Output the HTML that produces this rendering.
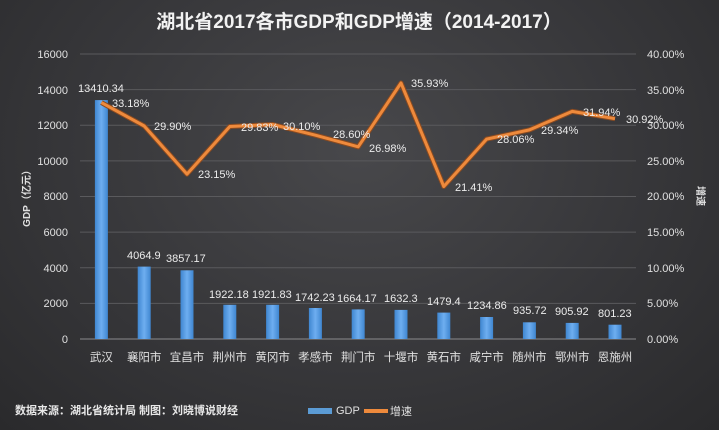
<!DOCTYPE html>
<html><head><meta charset="utf-8"><style>
html,body{margin:0;padding:0;width:719px;height:430px;overflow:hidden}
body{background:radial-gradient(ellipse at 50% 35%,#48484b 0%,#37373a 55%,#2a2a2c 100%);}
svg{display:block;font-family:"Liberation Sans","Noto Sans CJK SC",sans-serif}
</style></head><body>
<svg width="719" height="430" xmlns="http://www.w3.org/2000/svg">
<defs><linearGradient id="b" x1="0" y1="0" x2="1" y2="0"><stop offset="0" stop-color="#3f86d0"/><stop offset="0.5" stop-color="#6eaef0"/><stop offset="1" stop-color="#3f86d0"/></linearGradient></defs>
<text x="359" y="28" fill="#f2f2f2" font-size="19" font-weight="bold" text-anchor="middle">湖北省2017各市GDP和GDP增速（2014-2017）</text>
<g stroke="#5a5a5d" stroke-width="1">
<line x1="80" x2="636" y1="54" y2="54"/><line x1="80" x2="636" y1="89.6" y2="89.6"/><line x1="80" x2="636" y1="125.3" y2="125.3"/><line x1="80" x2="636" y1="160.9" y2="160.9"/><line x1="80" x2="636" y1="196.5" y2="196.5"/><line x1="80" x2="636" y1="232.1" y2="232.1"/><line x1="80" x2="636" y1="267.8" y2="267.8"/><line x1="80" x2="636" y1="303.4" y2="303.4"/>
</g>
<line x1="80" x2="636" y1="339" y2="339" stroke="#8a8a8d" stroke-width="1"/>
<g fill="#e0e0e0" font-size="11" text-anchor="end">
<text x="68" y="58">16000</text><text x="68" y="94">14000</text><text x="68" y="129">12000</text><text x="68" y="165">10000</text><text x="68" y="200">8000</text><text x="68" y="236">6000</text><text x="68" y="272">4000</text><text x="68" y="307">2000</text><text x="68" y="343">0</text>
</g>
<g fill="#e0e0e0" font-size="11">
<text x="647" y="58">40.00%</text><text x="647" y="94">35.00%</text><text x="647" y="129">30.00%</text><text x="647" y="165">25.00%</text><text x="647" y="200">20.00%</text><text x="647" y="236">15.00%</text><text x="647" y="272">10.00%</text><text x="647" y="307">5.00%</text><text x="647" y="343">0.00%</text>
</g>
<text transform="translate(30,196) rotate(-90)" fill="#e0e0e0" font-size="10" font-weight="bold" text-anchor="middle">GDP（亿元）</text>
<text transform="translate(697,196) rotate(90)" fill="#e0e0e0" font-size="10" font-weight="bold" text-anchor="middle">增速</text>
<g fill="url(#b)">
<rect x="94.9" y="100.1" width="13" height="238.9"/>
<rect x="137.7" y="266.6" width="13" height="72.4"/>
<rect x="180.5" y="270.3" width="13" height="68.7"/>
<rect x="223.3" y="304.8" width="13" height="34.2"/>
<rect x="266.1" y="304.8" width="13" height="34.2"/>
<rect x="308.9" y="308.0" width="13" height="31.0"/>
<rect x="351.7" y="309.4" width="13" height="29.6"/>
<rect x="394.5" y="309.9" width="13" height="29.1"/>
<rect x="437.3" y="312.6" width="13" height="26.4"/>
<rect x="480.1" y="317.0" width="13" height="22.0"/>
<rect x="522.9" y="322.3" width="13" height="16.7"/>
<rect x="565.7" y="322.9" width="13" height="16.1"/>
<rect x="608.5" y="324.7" width="13" height="14.3"/>
</g>
<polyline fill="none" stroke="#8a4a20" stroke-width="5" stroke-linejoin="round" points="101.4,102.6 144.2,126.0 187,174.1 229.8,126.5 272.6,124.5 315.4,135.2 358.2,146.8 401,83.0 443.8,186.5 486.6,139.1 529.4,129.9 572.2,111.4 615,118.7"/>
<polyline fill="none" stroke="#ee8a3c" stroke-width="3" stroke-linejoin="round" points="101.4,102.6 144.2,126.0 187,174.1 229.8,126.5 272.6,124.5 315.4,135.2 358.2,146.8 401,83.0 443.8,186.5 486.6,139.1 529.4,129.9 572.2,111.4 615,118.7"/>
<g fill="#ececec" font-size="11">
<text x="78" y="92">13410.34</text><text x="127" y="259">4064.9</text><text x="166" y="262">3857.17</text><text x="209" y="298">1922.18</text><text x="252" y="298">1921.83</text><text x="295" y="301">1742.23</text><text x="337" y="302">1664.17</text><text x="384" y="302">1632.3</text><text x="427" y="305">1479.4</text><text x="467" y="309">1234.86</text><text x="513" y="314">935.72</text><text x="555" y="315">905.92</text><text x="598" y="317">801.23</text>
<text x="112" y="107">33.18%</text><text x="154" y="130">29.90%</text><text x="198" y="178">23.15%</text><text x="241" y="131">29.83%</text><text x="283" y="130">30.10%</text><text x="333" y="138">28.60%</text><text x="369" y="152">26.98%</text><text x="411" y="87">35.93%</text><text x="455" y="191">21.41%</text><text x="497" y="143">28.06%</text><text x="541" y="134">29.34%</text><text x="583" y="116">31.94%</text><text x="626" y="123">30.92%</text>
</g>
<g fill="#e0e0e0" font-size="11.5" text-anchor="middle">
<text x="101.4" y="361">武汉</text><text x="144.2" y="361">襄阳市</text><text x="187" y="361">宜昌市</text><text x="229.8" y="361">荆州市</text><text x="272.6" y="361">黄冈市</text><text x="315.4" y="361">孝感市</text><text x="358.2" y="361">荆门市</text><text x="401" y="361">十堰市</text><text x="443.8" y="361">黄石市</text><text x="486.6" y="361">咸宁市</text><text x="529.4" y="361">随州市</text><text x="572.2" y="361">鄂州市</text><text x="615" y="361">恩施州</text>
</g>
<text x="15" y="414" fill="#e8e8e8" font-size="11" font-weight="bold">数据来源：湖北省统计局  制图：刘晓博说财经</text>
<rect x="308" y="408" width="24" height="6" fill="#5b9bd5"/>
<text x="336" y="414" fill="#e0e0e0" font-size="11">GDP</text>
<rect x="364" y="409" width="24" height="4" fill="#ee8a3c"/>
<text x="390" y="415" fill="#e0e0e0" font-size="11">增速</text>
</svg>
</body></html>
